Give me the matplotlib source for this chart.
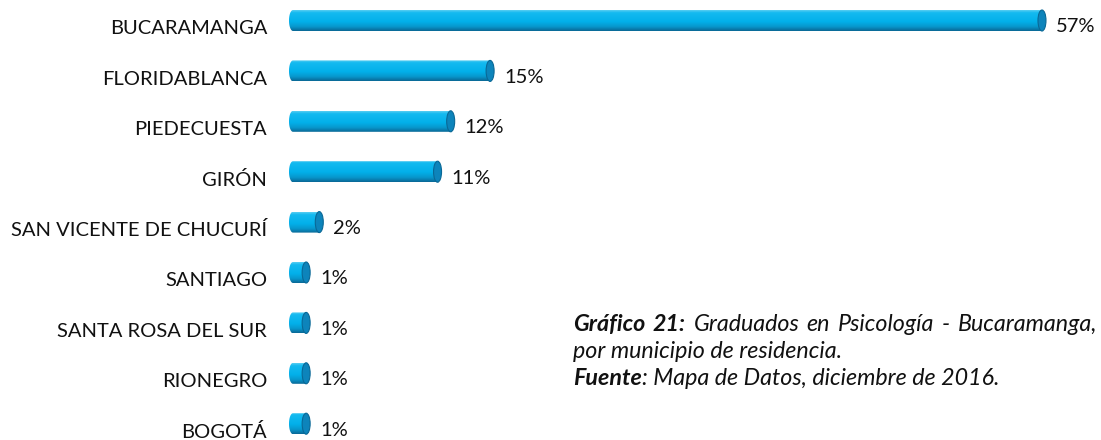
import matplotlib
matplotlib.use("Agg")
import matplotlib.pyplot as plt
from matplotlib.colors import LinearSegmentedColormap
from matplotlib.path import Path
from matplotlib.patches import PathPatch, Ellipse
import numpy as np

# data
municipios = ["BUCARAMANGA", "FLORIDABLANCA", "PIEDECUESTA", "GIRÓN",
              "SAN VICENTE DE CHUCURÍ", "SANTIAGO", "SANTA ROSA DEL SUR",
              "RIONEGRO", "BOGOTÁ"]
porcentajes = [57, 15, 12, 11, 2, 1, 1, 1, 1]

plt.rcParams['font.family'] = ['Lato', 'DejaVu Sans']

W, H = 1101, 440
fig = plt.figure(figsize=(W / 100, H / 100), dpi=100)

#axes in pixel-like units: x=0 at the bar start (293 px)
x0_px = 293
px_per_unit = 13.14
row = 50.4
top_px = 20.5
ax = fig.add_axes([0, 0, 1, 1])
ax.set_xlim(-x0_px / px_per_unit, (W - x0_px) / px_per_unit)
ax.set_ylim((H - top_px) / row, -top_px / row)
ax.axis("off")

bar_h = 21 / row
cap_w = 8 / px_per_unit
lip = 4 / px_per_unit  # rounded left end

cmap = LinearSegmentedColormap.from_list(
    "cyl", [(0, "#58cdf2"), (0.12, "#14baf0"), (0.55, "#02b0ea"),
            (0.8, "#0896cb"), (1, "#0a6896")])
grad = np.linspace(0, 1, 64).reshape(-1, 1)

for i, v in enumerate(porcentajes):
    y0, y1 = i - bar_h / 2, i + bar_h / 2
    s = np.linspace(0, np.pi, 40)
    # left half-ellipse going from bottom (y1) round to top (y0)
    arc = np.column_stack([-lip * np.sin(s), i + bar_h / 2 * np.cos(s)])
    pts = np.vstack([[v, y0], [v, y1], arc, [v, y0]])
    patch = PathPatch(Path(pts), facecolor="none", edgecolor="none")
    ax.add_patch(patch)
    im = ax.imshow(grad, cmap=cmap, aspect="auto", interpolation="bilinear",
                   extent=(-lip, v, y1, y0), zorder=2)
    im.set_clip_path(patch)
    ax.add_patch(Ellipse((v, i), cap_w, bar_h, facecolor="#0d84bb",
                         edgecolor="#0a6896", lw=0.8, zorder=3))

    ax.text(v + cap_w / 2 + 10 / px_per_unit, i + 12 / row, f"{v}%",
            fontsize=14.5, va="baseline", ha="left", color="#111111")
    ax.text(-26 / px_per_unit, i + 14 / row, municipios[i],
            fontsize=14.5, va="baseline", ha="right", color="#111111")

# caption; font size fitted so line 2 spans like the reference
fig.canvas.draw()
rend = fig.canvas.get_renderer()
x_start, x_end = 573, 1097
probe = fig.text(0, -1, "por municipio de residencia.", fontsize=14.5,
                 style="italic")
cap_size = 14.5 * 269 / probe.get_window_extent(renderer=rend).width
probe.remove()
cap_kw = dict(fontsize=cap_size, style="italic", va="baseline", ha="left",
              color="#111111")


def put(x, y, txt, wt):
    t = fig.text(x / W, 1 - y / H, txt, weight=wt, **cap_kw)
    return t, t.get_window_extent(renderer=rend).x1


words1 = [("Gráfico", "bold"), ("21:", "bold"), ("Graduados", "normal"),
          ("en", "normal"), ("Psicología", "normal"), ("-", "normal"),
          ("Bucaramanga,", "normal")]
widths = []
for w, wt in words1:
    t, _ = put(0, -100, w, wt)
    widths.append(t.get_window_extent(renderer=rend).width)
    t.remove()
gap = (x_end - x_start - sum(widths)) / (len(words1) - 1)
x = x_start
for (w, wt), wd in zip(words1, widths):
    put(x, 331, w, wt)
    x += wd + gap

put(x_start, 358, "por municipio de residencia.", "normal")
t, xr = put(x_start, 385, "Fuente", "bold")
put(xr, 385, ": Mapa de Datos, diciembre de 2016.", "normal")

fig.savefig("out.png", dpi=100)
